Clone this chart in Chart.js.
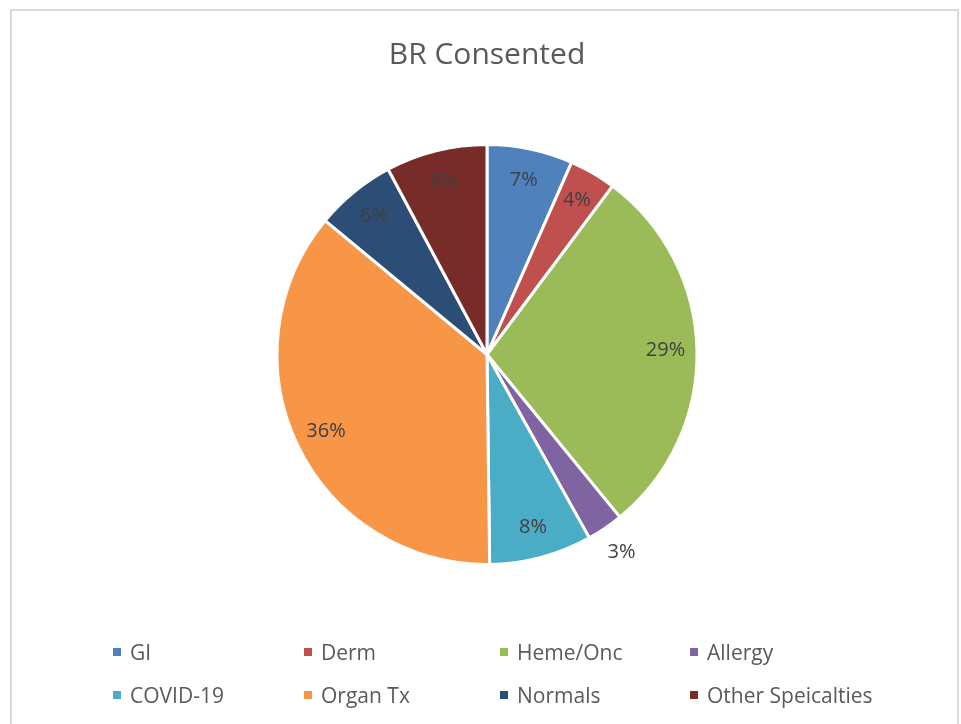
<!DOCTYPE html>
<html>
<head>
<meta charset="utf-8">
<script src="https://cdn.jsdelivr.net/npm/chart.js@4"></script>
<style>
  body { margin: 0; background: #fff; font-family: "Open Sans", sans-serif; }
  #frame { position: absolute; left: 10px; top: 9px; width: 945px; height: 730px; border: 2px solid #d9d9d9; }
  #wrap { position: absolute; left: 0; top: 0; width: 961px; height: 724px; }
  #legend { position: absolute; left: 0; top: 0; width: 961px; height: 724px; pointer-events: none; }
  .item { position: absolute; display: flex; align-items: center; color: #595959; font-size: 21px; white-space: nowrap; }
  .item span.box { width: 8px; height: 8px; margin-right: 9px; display: inline-block; }
</style>
</head>
<body>
<div id="frame"></div>
<div id="wrap"><canvas id="canvas" width="961" height="724"></canvas></div>
<div id="legend"></div>
<script>
var labels = ["GI", "Derm", "Heme/Onc", "Allergy", "COVID-19", "Organ Tx", "Normals", "Other Speicalties"];
var values = [6.6, 3.6, 28.9, 2.8, 7.9, 36.2, 6.2, 7.8];
var colors = ["#4f81bd", "#c0504d", "#9bbb59", "#8064a2", "#4bacc6", "#f79646", "#2c4d75", "#772c2a"];

// percent labels on slices, small ones go outside
var pctLabels = {
    id: 'pctLabels',
    afterDatasetsDraw: function(chart) {
        var ctx = chart.ctx;
        var meta = chart.getDatasetMeta(0);
        var data = chart.data.datasets[0].data;
        var total = data.reduce(function(a, b) { return a + b; }, 0);
        ctx.save();
        ctx.font = '20px "Open Sans", sans-serif';
        ctx.fillStyle = '#404040';
        ctx.textAlign = 'center';
        ctx.textBaseline = 'middle';
        meta.data.forEach(function(arc, i) {
            var p = arc.getProps(['x', 'y', 'startAngle', 'endAngle', 'outerRadius']);
            var mid = (p.startAngle + p.endAngle) / 2;
            var pct = data[i] / total;
            var r = pct < 0.03 ? p.outerRadius * 1.14 : p.outerRadius * 0.85;
            ctx.fillText(Math.round(pct * 100) + '%', p.x + Math.cos(mid) * r, p.y + Math.sin(mid) * r);
        });
        ctx.restore();
    }
};

var config = {
    type: 'pie',
    data: {
        labels: labels,
        datasets: [{
            data: values,
            backgroundColor: colors,
            borderColor: '#ffffff',
            borderWidth: 3
        }]
    },
    options: {
        responsive: false,
        animation: false,
        layout: { padding: { left: 13, right: 0, top: 0, bottom: 158 } },
        plugins: {
            legend: { display: false },
            tooltip: { enabled: false },
            title: {
                display: true,
                text: 'BR Consented',
                color: '#595959',
                font: { family: '"Open Sans", sans-serif', size: 30, weight: 'normal' },
                padding: { top: 37, bottom: 70 }
            }
        }
    },
    plugins: [pctLabels]
};

// legend in two rows of four
var colX = [113, 304, 500, 690];
var rowY = [652, 695];
var legend = document.getElementById('legend');
labels.forEach(function(name, i) {
    var d = document.createElement('div');
    d.className = 'item';
    d.style.left = colX[i % 4] + 'px';
    d.style.top = (rowY[Math.floor(i / 4)] - 14) + 'px';
    d.style.height = '28px';
    d.innerHTML = '<span class="box" style="background:' + colors[i] + '"></span>' + name;
    legend.appendChild(d);
});

window.myPie = new Chart(document.getElementById('canvas'), config);
</script>
</body>
</html>
